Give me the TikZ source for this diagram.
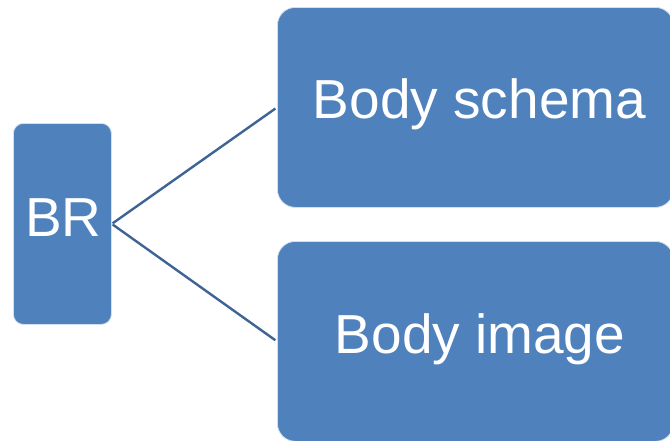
\documentclass[tikz,border=0pt]{standalone}
\usepackage{fontspec}
\setmainfont{Liberation Sans}
\definecolor{boxblue}{HTML}{4F81BD}
\definecolor{lineblue}{HTML}{3E6394}
\begin{document}
\begin{tikzpicture}[x=1pt,y=-1pt,
  box/.style={draw=white!75!boxblue, line width=0.8pt, fill=boxblue, rounded corners=#1, inner sep=0pt, anchor=north west},
  lbl/.style={text=white, font=\fontsize{55}{60}\selectfont, anchor=base, inner sep=0pt},
  conn/.style={draw=lineblue, line width=2.4pt}]
\useasboundingbox (0,0) rectangle (670,440);
\node[box=10pt, minimum width=98pt, minimum height=201pt] (br) at (13,123) {};
\node[box=18pt, minimum width=396pt, minimum height=200pt] (bs) at (277,7) {};
\node[box=18pt, minimum width=396pt, minimum height=200pt] (bi) at (277,241) {};
\node[lbl] (brt) at (63.5,236) {BR};
\node[lbl] (bst) at (479.5,118) {Body schema};
\node[lbl] (bit) at (480,353) {Body image};
\draw[conn, shorten <=1pt, shorten >=2pt] (br.east) -- (bs.west);
\draw[conn, shorten <=1pt, shorten >=2pt] (br.east) -- (bi.west);
\end{tikzpicture}
\end{document}
